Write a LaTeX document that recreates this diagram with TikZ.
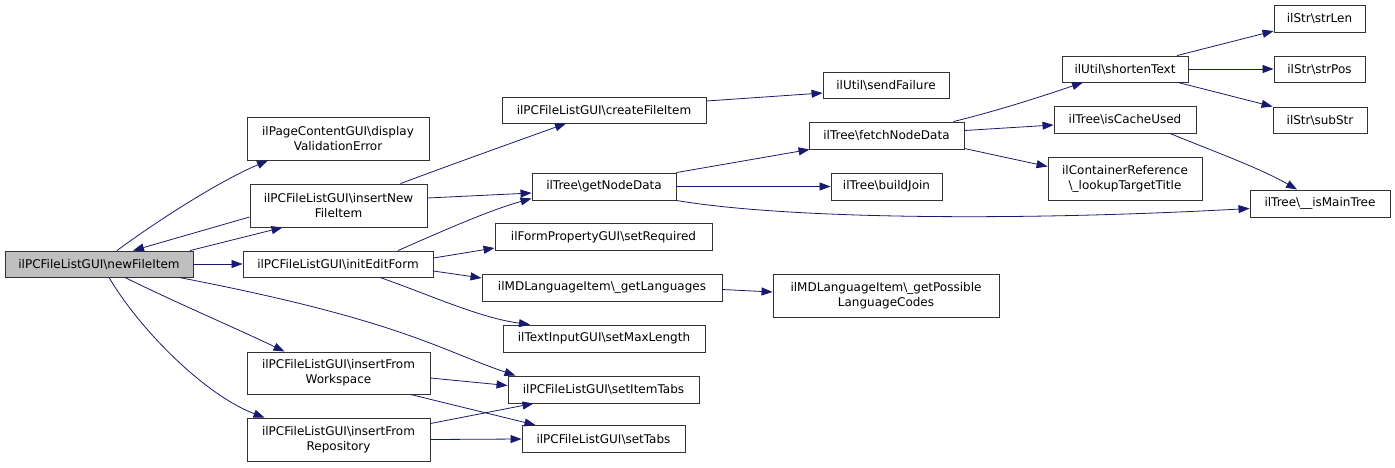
\documentclass[tikz,border=0pt]{standalone}
\usepackage{fontspec}
\setmainfont{DejaVu Sans}
\usetikzlibrary{arrows.meta,calc}
\definecolor{edgeblue}{RGB}{25,25,112}
\tikzset{
  box/.style={draw=black!80, line width=0.9pt, fill=white, inner sep=0pt, align=center,
    font=\fontsize{12}{15}\selectfont},
  mainbox/.style={box, fill=black!25},
  call/.style={draw=edgeblue, line width=0.8pt, -{Triangle[length=11pt,width=8pt]}},
}
\newcommand{\bs}{\textbackslash}
\begin{document}
\begin{tikzpicture}[x=1pt,y=-1pt]
\useasboundingbox (0,0) rectangle (1395,467);
% nodes
\node[mainbox, minimum width=188pt, minimum height=26pt] (nfi) at (99,264) {ilPCFileListGUI\bs newFileItem};
\node[box, minimum width=182pt, minimum height=43pt] (dve) at (338,138.5) {ilPageContentGUI\bs display\\ValidationError};
\node[box, minimum width=177pt, minimum height=43pt] (infi) at (338.5,205.5) {ilPCFileListGUI\bs insertNew\\FileItem};
\node[box, minimum width=190pt, minimum height=26pt] (ief) at (338,264) {ilPCFileListGUI\bs initEditForm};
\node[box, minimum width=183pt, minimum height=42pt] (ifw) at (338.5,373) {ilPCFileListGUI\bs insertFrom\\Workspace};
\node[box, minimum width=183pt, minimum height=43pt] (ifr) at (338.5,439.5) {ilPCFileListGUI\bs insertFrom\\Repository};
\node[box, minimum width=204pt, minimum height=26pt] (cfi) at (604,110) {ilPCFileListGUI\bs createFileItem};
\node[box, minimum width=144pt, minimum height=27pt] (gnd) at (604,186.5) {ilTree\bs getNodeData};
\node[box, minimum width=217pt, minimum height=27pt] (sr) at (603.5,237) {ilFormPropertyGUI\bs setRequired};
\node[box, minimum width=240pt, minimum height=27pt] (gl) at (602,287.5) {ilMDLanguageItem\bs\_getLanguages};
\node[box, minimum width=202pt, minimum height=27pt] (sml) at (604,338.5) {ilTextInputGUI\bs setMaxLength};
\node[box, minimum width=191pt, minimum height=27pt] (sit) at (603.5,389.5) {ilPCFileListGUI\bs setItemTabs};
\node[box, minimum width=163pt, minimum height=27pt] (stabs) at (603.5,439) {ilPCFileListGUI\bs setTabs};
\node[box, minimum width=126pt, minimum height=26pt] (sf) at (886,85) {ilUtil\bs sendFailure};
\node[box, minimum width=155pt, minimum height=27pt] (fnd) at (886.5,135.5) {ilTree\bs fetchNodeData};
\node[box, minimum width=111pt, minimum height=27pt] (bj) at (886.5,186.5) {ilTree\bs buildJoin};
\node[box, minimum width=226pt, minimum height=43pt] (gplc) at (886,295.5) {ilMDLanguageItem\bs\_getPossible\\LanguageCodes};
\node[box, minimum width=126pt, minimum height=26pt] (st) at (1125,69) {ilUtil\bs shortenText};
\node[box, minimum width=142pt, minimum height=27pt] (icu) at (1125,119.5) {ilTree\bs isCacheUsed};
\node[box, minimum width=154pt, minimum height=43pt] (cr) at (1125,178.5) {ilContainerReference\\\bs\_lookupTargetTitle};
\node[box, minimum width=91pt, minimum height=27pt] (strlen) at (1319.5,18.5) {ilStr\bs strLen};
\node[box, minimum width=91pt, minimum height=26pt] (strpos) at (1319.5,69) {ilStr\bs strPos};
\node[box, minimum width=94pt, minimum height=26pt] (substr) at (1320,120) {ilStr\bs subStr};
\node[box, minimum width=140pt, minimum height=27pt] (imt) at (1320,203.5) {ilTree\bs\_\_isMainTree};
% edges
\draw[call] ([xshift=18pt]nfi.north) .. controls (150,226) and (215,183) .. ([xshift=-70pt]dve.south);
\draw[call] ([xshift=91pt]nfi.north) -- ([xshift=-56pt]infi.south);
\draw[call] ([yshift=-11.5pt]infi.west) -- ([xshift=34pt]nfi.north);
\draw[call] (nfi.east) -- (ief.west);
\draw[call] ([xshift=26pt]nfi.south) .. controls (170,300) and (240,330) .. ([xshift=-54pt]ifw.north);
\draw[call] ([xshift=10pt]nfi.south) .. controls (140,330) and (205,395) .. ([xshift=-74pt]ifr.north);
\draw[call] ([xshift=80pt]nfi.south) .. controls (400,320) and (440,350) .. ([xshift=-88pt]sit.north);
\draw[call] ([xshift=62pt]infi.north) .. controls (450,165) and (520,140) .. ([xshift=-38pt]cfi.south);
\draw[call] ([yshift=7.5pt]infi.east) -- ([yshift=-6.5pt]gnd.west);
\draw[call] ([xshift=60pt]ief.north) .. controls (440,232) and (490,210) .. ([yshift=-12pt]gnd.west);
\draw[call] ([yshift=6pt]ief.east) -- ([yshift=-11pt]sr.west);
\draw[call] ([yshift=-7pt]ief.east) -- ([yshift=9.5pt]gl.west);
\draw[call] ([xshift=42pt]ief.south) .. controls (430,295) and (480,318) .. ([xshift=-74pt]sml.north);
\draw[call] ([yshift=9pt]cfi.east) -- ([yshift=-8pt]sf.west);
\draw[call] (gnd.north east) -- ([xshift=1pt]fnd.south west);
\draw[call] (gnd.east) -- (bj.west);
\draw[call] (gnd.south east) .. controls (780,218) and (1000,222) .. ([yshift=-5pt]imt.west);
\draw[call] ([xshift=67pt]fnd.north) .. controls (1000,110) and (1040,97) .. ([xshift=-42pt]st.south);
\draw[call] ([yshift=5pt]fnd.east) -- ([yshift=-5.5pt]icu.west);
\draw[call] ([yshift=-13pt]fnd.east) -- ([yshift=12pt]cr.west);
\draw[call] ([xshift=52pt]st.north) -- ([yshift=-12.5pt]strlen.west);
\draw[call] (st.east) -- (strpos.west);
\draw[call] ([xshift=53pt]st.south) -- (substr.north west);
\draw[call] ([xshift=45pt]icu.south) .. controls (1210,150) and (1260,168) .. ([xshift=-23pt]imt.north);
\draw[call] ([yshift=-2pt]gl.east) -- ([yshift=3.5pt]gplc.west);
\draw[call] ([yshift=-5pt]ifw.east) -- ([yshift=4pt]sit.west);
\draw[call] ([xshift=72pt]ifw.south) -- ([xshift=-68pt]stabs.north);
\draw[call] ([yshift=16pt]ifr.east) -- ([xshift=-70pt]sit.south);
\draw[call] (ifr.east) -- (stabs.west);
\end{tikzpicture}
\end{document}
